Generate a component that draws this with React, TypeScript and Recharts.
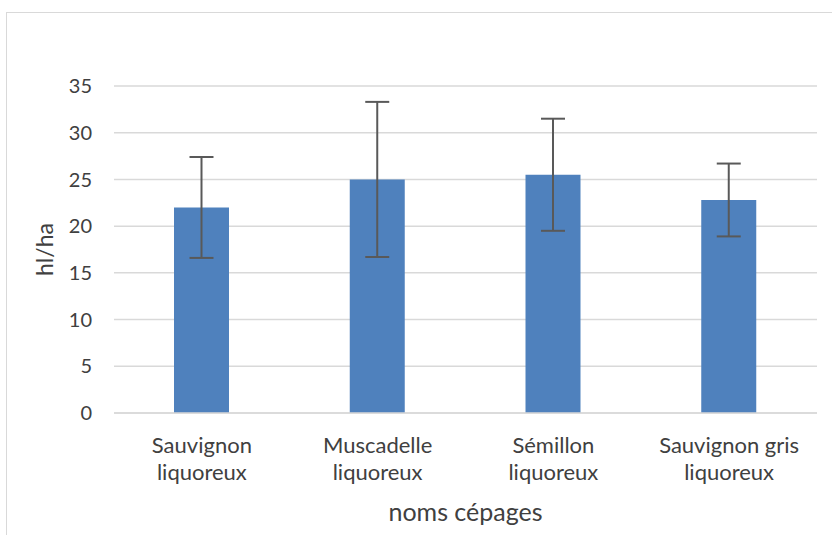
import React from "react";
import {
  BarChart,
  Bar,
  XAxis,
  YAxis,
  CartesianGrid,
  ErrorBar,
  Label,
} from "recharts";

const categories = [
  "Sauvignon liquoreux",
  "Muscadelle liquoreux",
  "Sémillon liquoreux",
  "Sauvignon gris liquoreux",
];
const rendements = [22.0, 25.0, 25.5, 22.8];
const ecarts = [5.4, 8.3, 6.0, 3.9];
const yTicks = [0, 5, 10, 15, 20, 25, 30, 35];

const FONT = "Lato, 'Open Sans', sans-serif";
const TEXTE = "#404040";
const GRILLE = "#d9d9d9";

const donnees = categories.map((nom, i) => ({
  nom,
  valeur: rendements[i],
  ecart: ecarts[i],
}));

// nom sur deux lignes : le dernier mot passe en dessous
function TickCategorie({ x, y, payload }: any) {
  const mots = String(payload.value).split(" ");
  const dernier = mots.pop();
  return (
    <text
      x={x}
      y={y}
      textAnchor="middle"
      fill={TEXTE}
      fontSize={22}
      fontFamily={FONT}
    >
      <tspan x={x} dy={40}>
        {mots.join(" ")}
      </tspan>
      <tspan x={x} dy={27}>
        {dernier}
      </tspan>
    </text>
  );
}

function TitreY({ viewBox }: any) {
  const cx = viewBox.x + 44;
  const cy = viewBox.y + viewBox.height / 2;
  return (
    <text
      x={cx}
      y={cy}
      transform={`rotate(-90 ${cx} ${cy})`}
      textAnchor="middle"
      dominantBaseline="central"
      fill={TEXTE}
      fontSize={23}
      fontFamily={FONT}
    >
      hl/ha
    </text>
  );
}

export default function App() {
  return (
    <div
      style={{
        position: "absolute",
        left: 0,
        top: 0,
        width: 832,
        height: 535,
        background: "#fff",
        overflow: "hidden",
      }}
    >
      <div
        style={{
          position: "absolute",
          left: 6,
          top: 12,
          width: 860,
          height: 560,
          border: `1px solid ${GRILLE}`,
        }}
      />
      <div style={{ position: "absolute", left: 0, top: 0 }}>
        <BarChart
          width={832}
          height={535}
          data={donnees}
          margin={{ top: 86, right: 15, bottom: 0, left: 0 }}
        >
          <CartesianGrid vertical={false} stroke={GRILLE} strokeWidth={1.5} />
          <XAxis
            dataKey="nom"
            height={122}
            tickLine={false}
            tickSize={0}
            tickMargin={0}
            axisLine={{ stroke: GRILLE, strokeWidth: 1.5 }}
            tick={<TickCategorie />}
            interval={0}
          >
            <Label
              value="noms cépages"
              position="insideBottom"
              offset={14}
              fill={TEXTE}
              fontSize={25}
              fontFamily={FONT}
            />
          </XAxis>
          <YAxis
            width={114}
            domain={[0, 35]}
            ticks={yTicks}
            axisLine={false}
            tickLine={false}
            tickSize={0}
            tickMargin={22}
            tick={{ fill: TEXTE, fontSize: 20, fontFamily: FONT }}
          >
            <Label content={<TitreY />} />
          </YAxis>
          <Bar
            dataKey="valeur"
            fill="#4f81bd"
            barSize={55}
            isAnimationActive={false}
          >
            <ErrorBar
              dataKey="ecart"
              direction="y"
              width={12}
              stroke="#595959"
              strokeWidth={2}
            />
          </Bar>
        </BarChart>
      </div>
    </div>
  );
}
